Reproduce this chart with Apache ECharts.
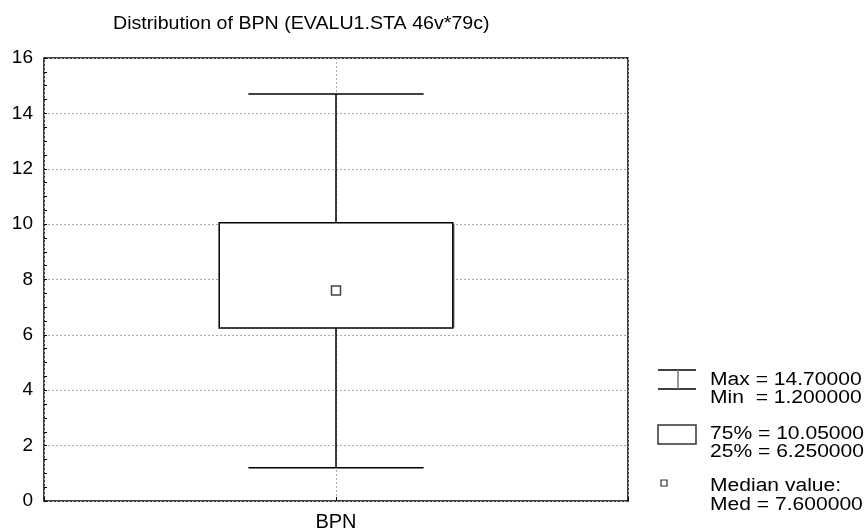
<!DOCTYPE html>
<html>
<head>
<meta charset="utf-8">
<script src="https://cdn.jsdelivr.net/npm/echarts@6/dist/echarts.min.js"></script>
<style>
  html, body { margin: 0; padding: 0; background: #fff; }
  #chart { width: 865px; height: 532px; }
</style>
</head>
<body>
<div id="chart"></div>
<script>
// Box-and-whisker summary of BPN
const categories = ['BPN'];
const minVals = [1.2];
const q1Vals = [6.25];
const medVals = [7.6];
const q3Vals = [10.05];
const maxVals = [14.7];
const yTicks = [0, 2, 4, 6, 8, 10, 12, 14, 16];
const titleText = 'Distribution of BPN (EVALU1.STA 46v*79c)';

const FONT = '"Liberation Sans", Arial, Helvetica, sans-serif';
const fmt = v => v.toPrecision(7);

const boxData = categories.map((c, i) => [i + 1, minVals[i], q1Vals[i], medVals[i], q3Vals[i], maxVals[i]]);

function renderBox(params, api) {
  const x = api.value(0);
  const pMin = api.coord([x, api.value(1)]);
  const pQ1 = api.coord([x, api.value(2)]);
  const pMed = api.coord([x, api.value(3)]);
  const pQ3 = api.coord([x, api.value(4)]);
  const pMax = api.coord([x, api.value(5)]);
  const boxW = api.size([0.8, 0])[0];
  const capW = api.size([0.6, 0])[0];
  const cx = pMed[0];
  const line = { stroke: '#000', lineWidth: 1.5 };
  return {
    type: 'group',
    children: [
      { type: 'line', shape: { x1: cx, y1: pMax[1], x2: cx, y2: pQ3[1] }, style: line },
      { type: 'line', shape: { x1: cx, y1: pQ1[1], x2: cx, y2: pMin[1] }, style: line },
      { type: 'line', shape: { x1: cx - capW / 2, y1: pMax[1], x2: cx + capW / 2, y2: pMax[1] }, style: line },
      { type: 'line', shape: { x1: cx - capW / 2, y1: pMin[1], x2: cx + capW / 2, y2: pMin[1] }, style: line },
      { type: 'line', shape: { x1: cx + boxW / 2 + 1, y1: pQ3[1] + 1, x2: cx + boxW / 2 + 1, y2: pQ1[1] }, style: { stroke: '#888', lineWidth: 1.5 } },
      { type: 'rect', shape: { x: cx - boxW / 2, y: pQ3[1], width: boxW, height: pQ1[1] - pQ3[1] },
        style: { fill: '#fff', stroke: '#000', lineWidth: 1.5 } },
      { type: 'rect', shape: { x: cx - 4.5, y: pMed[1] - 4.5, width: 9, height: 9 },
        style: { fill: '#fff', stroke: '#444', lineWidth: 1.5 } }
    ]
  };
}

// wide-set text used for the title and the summary key
const wideText = (t, x, y, size, sx) => ({
  type: 'text', x: x, y: y, scaleX: sx,
  style: { text: t, x: 0, y: 0, fill: '#000', font: size + 'px ' + FONT, verticalAlign: 'middle' }
});

const chart = echarts.init(document.getElementById('chart'));
chart.setOption({
  animation: false,
  backgroundColor: '#fff',
  grid: { left: 44, right: 237, top: 58, bottom: 31, show: true, borderColor: '#000', borderWidth: 1.5, backgroundColor: 'transparent' },
  xAxis: {
    type: 'value', min: 0, max: 2, interval: 1,
    axisLine: { show: false },
    axisTick: { show: true, inside: true, length: 4, lineStyle: { color: '#000' } },
    axisLabel: { formatter: v => (v >= 1 && v <= categories.length ? categories[v - 1] : ''), fontFamily: FONT, fontSize: 20, color: '#000', margin: 11 },
    splitLine: { show: true, lineStyle: { color: '#aaa', type: [2, 2] } }
  },
  yAxis: [{
    type: 'value', min: yTicks[0], max: yTicks[yTicks.length - 1], interval: 2,
    axisLine: { show: false },
    axisTick: { show: true, inside: true, length: 3, lineStyle: { color: '#000' } },
    minorTick: { show: true, splitNumber: 4, length: 3, lineStyle: { color: '#000' } },
    axisLabel: { fontFamily: FONT, fontSize: 19, color: '#000', margin: 11 },
    splitLine: { show: true, lineStyle: { color: '#aaa', type: [2, 2] } }
  }],
  graphic: [
    wideText(titleText, 113, 24, 18, 1.09),
    { type: 'line', shape: { x1: 658, y1: 370, x2: 696, y2: 370 }, style: { stroke: '#000', lineWidth: 1.5 } },
    { type: 'line', shape: { x1: 658, y1: 389, x2: 696, y2: 389 }, style: { stroke: '#000', lineWidth: 1.5 } },
    { type: 'line', shape: { x1: 678, y1: 370, x2: 678, y2: 389 }, style: { stroke: '#777', lineWidth: 1.5 } },
    { type: 'rect', shape: { x: 658, y: 425, width: 38, height: 19 }, style: { fill: '#fff', stroke: '#333', lineWidth: 1.5 } },
    { type: 'rect', shape: { x: 661, y: 480, width: 6, height: 6 }, style: { fill: '#fff', stroke: '#333', lineWidth: 1.2 } },
    wideText('Max = ' + fmt(maxVals[0]), 710, 380, 18, 1.17),
    wideText('Min  = ' + fmt(minVals[0]), 710, 398.5, 18, 1.17),
    wideText('75% = ' + fmt(q3Vals[0]), 710, 434, 18, 1.17),
    wideText('25% = ' + fmt(q1Vals[0]), 710, 452.5, 18, 1.17),
    wideText('Median value:', 710, 486.5, 18, 1.17),
    wideText('Med = ' + fmt(medVals[0]), 710, 505, 18, 1.17)
  ],
  series: [{
    type: 'custom',
    renderItem: renderBox,
    data: boxData,
    encode: { x: 0, y: [1, 2, 3, 4, 5] },
    z: 3
  }]
});
</script>
</body>
</html>
